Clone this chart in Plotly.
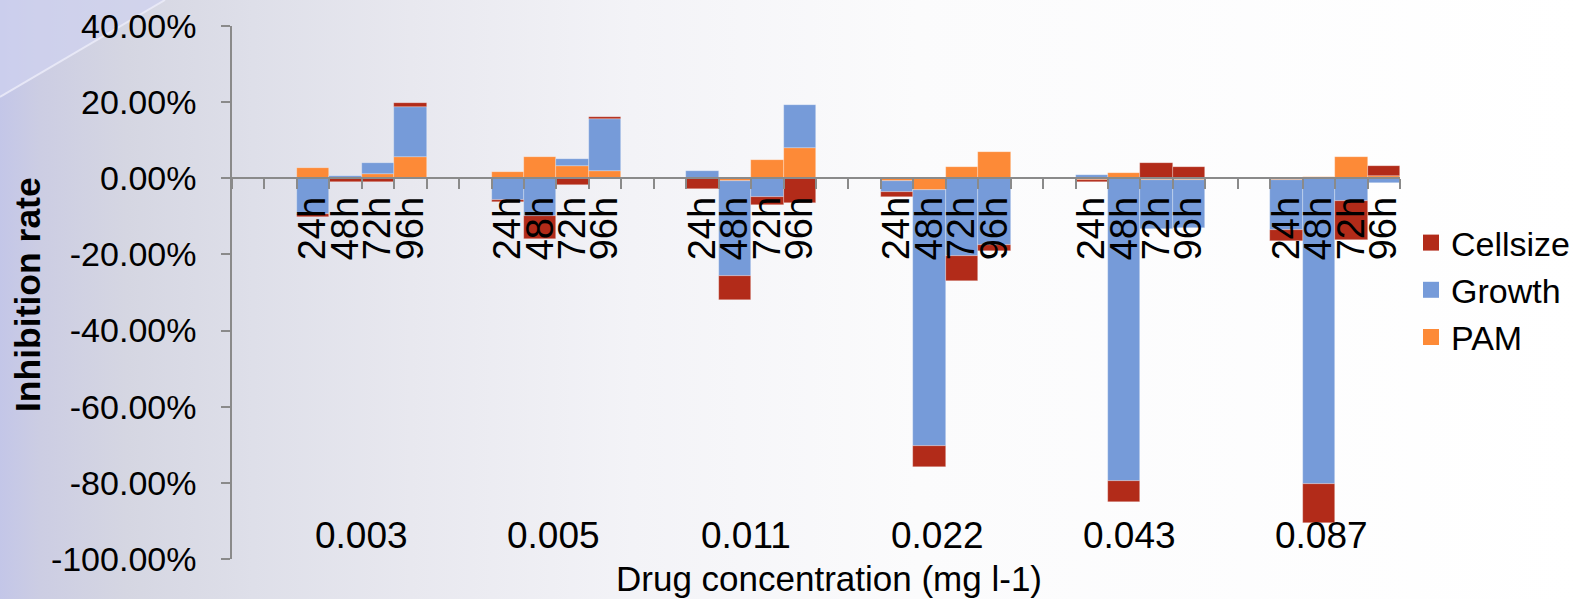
import base64
import plotly.graph_objects as go

# ---------------- data (percent) ----------------
concentrations = ["0.003", "0.005", "0.011", "0.022", "0.043", "0.087"]
times = ["24h", "48h", "72h", "96h"]

pam = [
    [2.6, 0.0, 1.1, 5.7],
    [1.7, 5.7, 3.3, 2.0],
    [0.0, -0.6, 4.8, 8.0],
    [-0.6, -3.1, 2.9, 6.9],
    [-0.5, 1.3, -0.5, -0.5],
    [-0.5, 0.3, 5.5, 0.7],
]
growth = [
    [-9.5, 0.6, 2.8, 13.1],
    [-5.7, -9.9, 1.7, 13.7],
    [2.0, -25.1, -4.8, 11.2],
    [-2.9, -67.3, -20.4, -17.4],
    [0.9, -79.6, -12.8, -12.5],
    [-13.1, -80.3, -5.9, -1.3],
]
cellsize = [
    [-0.6, -1.0, -1.0, 0.9],
    [-0.6, -6.1, -1.8, 0.4],
    [-2.7, -6.3, -2.2, -6.4],
    [-1.5, -5.4, -6.7, -1.6],
    [-0.6, -5.4, 4.1, 2.9],
    [-3.0, -10.2, -10.3, 2.6],
]
y_ticks = [40, 20, 0, -20, -40, -60, -80, -100]
y_ticktext = [f"{v:.2f}%" for v in y_ticks]

series = [("PAM", pam, "#fd8a37"), ("Growth", growth, "#769bd9"), ("Cellsize", cellsize, "#b22b19")]

# ---------------- geometry ----------------
W, H = 1580, 599
ML, MR, MT, MB = 232, 180, 26, 40
PW, PH = W - ML - MR, H - MT - MB
SLOTS = 6          # slots per concentration group (2 blank + 4 bars)
FIRST = 2
YMIN, YMAX = -100, 40
zero_pos = (0 - YMIN) / (YMAX - YMIN)

FONT = "Arial, Liberation Sans, sans-serif"
AXC = "#8a8a8a"

xs, xlabels = [], []
for gi, c in enumerate(concentrations):
    for ti, t in enumerate(times):
        xs.append(gi * SLOTS + FIRST + ti + 0.5)
        xlabels.append(t)

fig = go.Figure()
for name, vals, col in series:
    flat = [v for row in vals for v in row]
    fig.add_trace(go.Bar(
        x=xs, y=flat, name=name, marker=dict(color=col, line=dict(width=0.6, color="rgba(255,255,255,0.45)")),
        showlegend=False, hoverinfo="name+y",
    ))

# legend entries (larger square symbols)
for name, vals, col in reversed(series):
    fig.add_trace(go.Scatter(
        x=[None], y=[None], mode="markers", name=name, xaxis="x2",
        marker=dict(symbol="square", size=19, color=col), legendgroup=name,
    ))

# concentration labels
for gi, c in enumerate(concentrations):
    fig.add_annotation(x=gi * SLOTS + 3.99 - 0.08 * gi, y=-93.7, xref="x", yref="y", text=c,
                       showarrow=False, font=dict(size=37, color="#000", family=FONT),
                       xanchor="center", yanchor="middle")

# axis titles
fig.add_annotation(x=(829 - ML) / PW, y=(H - MB - 578) / PH, xref="paper", yref="paper",
                   text="Drug concentration (mg l-1)", showarrow=False,
                   font=dict(size=35, color="#000", family=FONT), xanchor="center", yanchor="middle")
fig.add_annotation(x=(28 - ML) / PW, y=(H - MB - 295) / PH, xref="paper", yref="paper",
                   text="<b>Inhibition rate</b>", textangle=-90, showarrow=False,
                   font=dict(size=35.5, color="#000", family=FONT), xanchor="center", yanchor="middle")

# background gradient
svg = f'''<svg xmlns="http://www.w3.org/2000/svg" width="{W}" height="{H}" viewBox="0 0 {W} {H}" preserveAspectRatio="none">
<defs><linearGradient id="g" x1="0" y1="0" x2="1" y2="0">
<stop offset="0" stop-color="#c3c6e8"/>
<stop offset="0.025" stop-color="#cccde3"/>
<stop offset="0.08" stop-color="#d5d6e2"/>
<stop offset="0.16" stop-color="#dedfe9"/>
<stop offset="0.26" stop-color="#e8e8ef"/>
<stop offset="0.40" stop-color="#f3f3f7"/>
<stop offset="0.58" stop-color="#fbfbfc"/>
<stop offset="1" stop-color="#ffffff"/>
</linearGradient></defs>
<rect width="{W}" height="{H}" fill="url(#g)"/>
<polygon points="0,0 165,0 0,97" fill="#cfd1f0" opacity="0.7"/>
<line x1="0" y1="97" x2="165" y2="0" stroke="#eeeefa" stroke-width="2" opacity="0.8"/>
</svg>'''
src = "data:image/svg+xml;base64," + base64.b64encode(svg.encode()).decode()
fig.add_layout_image(dict(source=src, xref="paper", yref="paper", x=-ML / PW, y=1 + MT / PH,
                          sizex=W / PW, sizey=H / PH, xanchor="left", yanchor="top",
                          sizing="stretch", layer="below"))

fig.update_layout(
    width=W, height=H, autosize=False,
    margin=dict(l=ML, r=MR, t=MT, b=MB, pad=0, autoexpand=False),
    paper_bgcolor="white", plot_bgcolor="rgba(0,0,0,0)",
    barmode="relative", bargap=0,
    font=dict(family=FONT, size=34, color="#000"),
    xaxis=dict(range=[0, SLOTS * len(concentrations)], anchor="free", position=zero_pos,
               tickmode="linear", tick0=0, dtick=1, ticks="outside", ticklen=10, tickwidth=1.5,
               tickcolor=AXC, showline=True, linecolor=AXC, linewidth=1.5,
               showticklabels=False, showgrid=False, zeroline=False, fixedrange=True),
    xaxis2=dict(range=[0, SLOTS * len(concentrations)], overlaying="x", anchor="free", position=zero_pos,
                tickmode="array", tickvals=xs, ticktext=xlabels, tickangle=-90, ticks="",
                ticklabelstandoff=10, showline=False, showgrid=False, zeroline=False,
                tickfont=dict(size=38, color="#000", family=FONT), side="bottom", fixedrange=True),
    yaxis=dict(range=[YMIN, YMAX], tickmode="array", tickvals=y_ticks, ticktext=y_ticktext,
               ticks="outside", ticklen=9, tickwidth=1.5, tickcolor=AXC, showline=True,
               linecolor=AXC, linewidth=1.5, showgrid=False, zeroline=False,
               tickfont=dict(size=34, color="#000", family=FONT), ticklabelstandoff=18, fixedrange=True),
    legend=dict(x=(1411 - ML) / PW, y=(H - MB - 214) / PH, xanchor="left", yanchor="top",
                traceorder="normal", tracegroupgap=4, bgcolor="rgba(0,0,0,0)",
                font=dict(size=34, color="#000", family=FONT)),
    showlegend=True,
)

fig.write_html("out.html")
